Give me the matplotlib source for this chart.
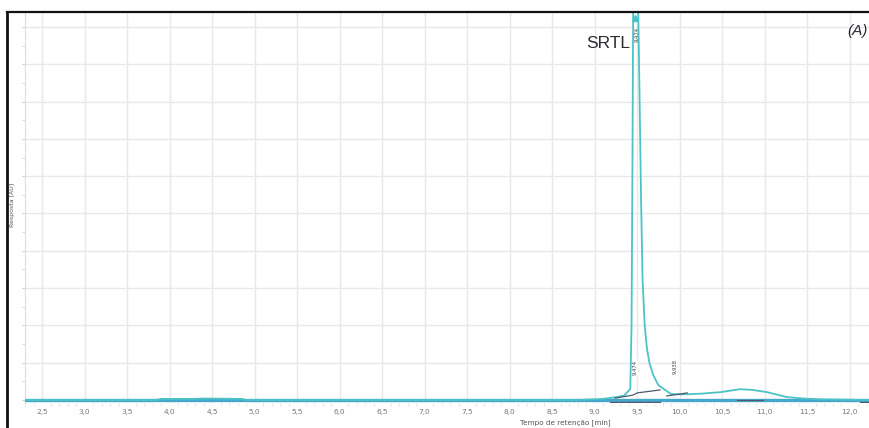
import numpy as np
import matplotlib
matplotlib.use("Agg")
import matplotlib.pyplot as plt
from matplotlib.lines import Line2D

# Cromatograma - valores (tempo em min, resposta em unidades de grade)
t_sinal = [2.3, 3.85, 3.9, 4.3, 4.4, 4.85, 4.9, 8.8, 9.1, 9.26, 9.35, 9.42,
           9.435, 9.445, 9.455, 9.48, 9.51, 9.53, 9.547, 9.565, 9.59, 9.615,
           9.645, 9.69, 9.75, 9.83, 9.9, 10.03, 10.25, 10.48, 10.71, 10.86,
           11.03, 11.26, 11.45, 11.65, 12.24]
y_sinal = [0.0, 0.0, 0.03, 0.03, 0.04, 0.03, 0.0, 0.0, 0.03, 0.08, 0.12, 0.3,
           2.0, 6.0, 11.0, 14.0, 11.0, 8.0, 5.36, 3.2, 2.0, 1.4,
           1.0, 0.67, 0.40, 0.27, 0.16, 0.15, 0.17, 0.21, 0.29, 0.27,
           0.21, 0.08, 0.04, 0.02, 0.0]

# linha de base (azul)
t_base = [2.3, 12.24]
y_base = [0.0, 0.0]

# linhas de integracao (escuras)
integ_t = [[9.18, 9.77], [9.24, 9.45, 9.5, 9.77], [9.85, 10.09],
           [10.68, 10.98], [12.12, 12.24]]
integ_y = [[-0.05, -0.05], [0.05, 0.13, 0.19, 0.27], [0.11, 0.19],
           [0.0, 0.0], [-0.05, -0.05]]

pico_tr = 9.474
rotulos_t = [9.474, 9.95]
rotulos_txt = ["9,474", "9,938"]
rotulos_y = [0.88, 0.91]

ticks_x = [2.5, 3.0, 3.5, 4.0, 4.5, 5.0, 5.5, 6.0, 6.5, 7.0, 7.5, 8.0, 8.5,
           9.0, 9.5, 10.0, 10.5, 11.0, 11.5, 12.0]
ticks_lbl = ["2,5", "3,0", "3,5", "4,0", "4,5", "5,0", "5,5", "6,0", "6,5",
             "7,0", "7,5", "8,0", "8,5", "9,0", "9,5", "10,0", "10,5", "11,0",
             "11,5", "12,0"]

fig = plt.figure(figsize=(8.7, 4.28), dpi=100)
ax = fig.add_axes([25 / 870, 25 / 428, 1 - 25 / 870, (403 - 12) / 428])

ax.set_xlim(2.3, 12.24)
ax.set_ylim(-0.08, 10.4)

# grade
ax.set_xticks(ticks_x)
ax.set_xticklabels(ticks_lbl)
ax.set_xticks(np.arange(2.3, 12.3, 0.1), minor=True)
ax.set_yticks(np.arange(0, 11, 1))
ax.set_yticklabels([])
ax.set_yticks(np.arange(0.5, 10.5, 1), minor=True)
ax.grid(True, which="major", color="#e8e8ec", lw=1.0)
ax.set_axisbelow(True)
ax.tick_params(axis="x", which="major", length=0, pad=4, labelsize=5.3,
               labelcolor="#777777")
ax.tick_params(axis="x", which="minor", length=2, color="#e2e2e2")
ax.tick_params(axis="y", which="both", length=2, color="#d0d0d0")

for s in ["right", "bottom", "top"]:
    ax.spines[s].set_visible(False)
ax.spines["left"].set_color("#dcdce2")

# tracos
ax.plot(t_base, y_base, color="#45a6c9", lw=2.4, zorder=3)
ax.plot(t_sinal, y_sinal, color="#4cc3c6", lw=1.3, zorder=4)
for tt, yy in zip(integ_t, integ_y):
    ax.plot(tt, yy, color="#4d5a6b", lw=0.9, zorder=5)
ax.plot([pico_tr + 0.005], [10.25], marker="^", color="#4cc3c6", ms=4,
        zorder=6, clip_on=False)

# rotulos dos picos
ax.text(pico_tr + 0.02, 9.8, "9,474", rotation=90, fontsize=3.8,
        color="#444444", ha="center", va="center", zorder=7)
for tx, ty, txt in zip(rotulos_t, rotulos_y, rotulos_txt):
    ax.text(tx, ty, txt, rotation=90, fontsize=3.8, color="#444444",
            ha="center", va="center", zorder=7,
            bbox=dict(boxstyle="square,pad=0.15", fc="white", ec="none"))

ax.text(pico_tr - 0.05, 9.55, "SRTL", fontsize=12.5, color="#2a2a33",
        ha="right", va="center", family="Liberation Sans")
fig.text(868 / 870, 1 - 31 / 428, "(A)", fontsize=11, color="#2a2a33",
         style="italic", ha="right", va="center", family="Liberation Sans")

ax.set_xlabel("Tempo de retenção [min]", fontsize=5.2, color="#555555",
              labelpad=0)
ax.xaxis.set_label_coords((565 - 25) / 845, -0.042)
fig.text(13 / 870, 1 - 205 / 428, "Resposta [AU]", rotation=90, fontsize=4.5,
         color="#555555", ha="center", va="center")

# moldura preta da captura
fig.add_artist(Line2D([7 / 870, 7 / 870], [0, 1 - 12 / 428], color="#111111",
                      lw=2, transform=fig.transFigure))
fig.add_artist(Line2D([7 / 870, 1], [1 - 12 / 428, 1 - 12 / 428],
                      color="#111111", lw=1.6, transform=fig.transFigure))

fig.savefig("out.png", dpi=100)
